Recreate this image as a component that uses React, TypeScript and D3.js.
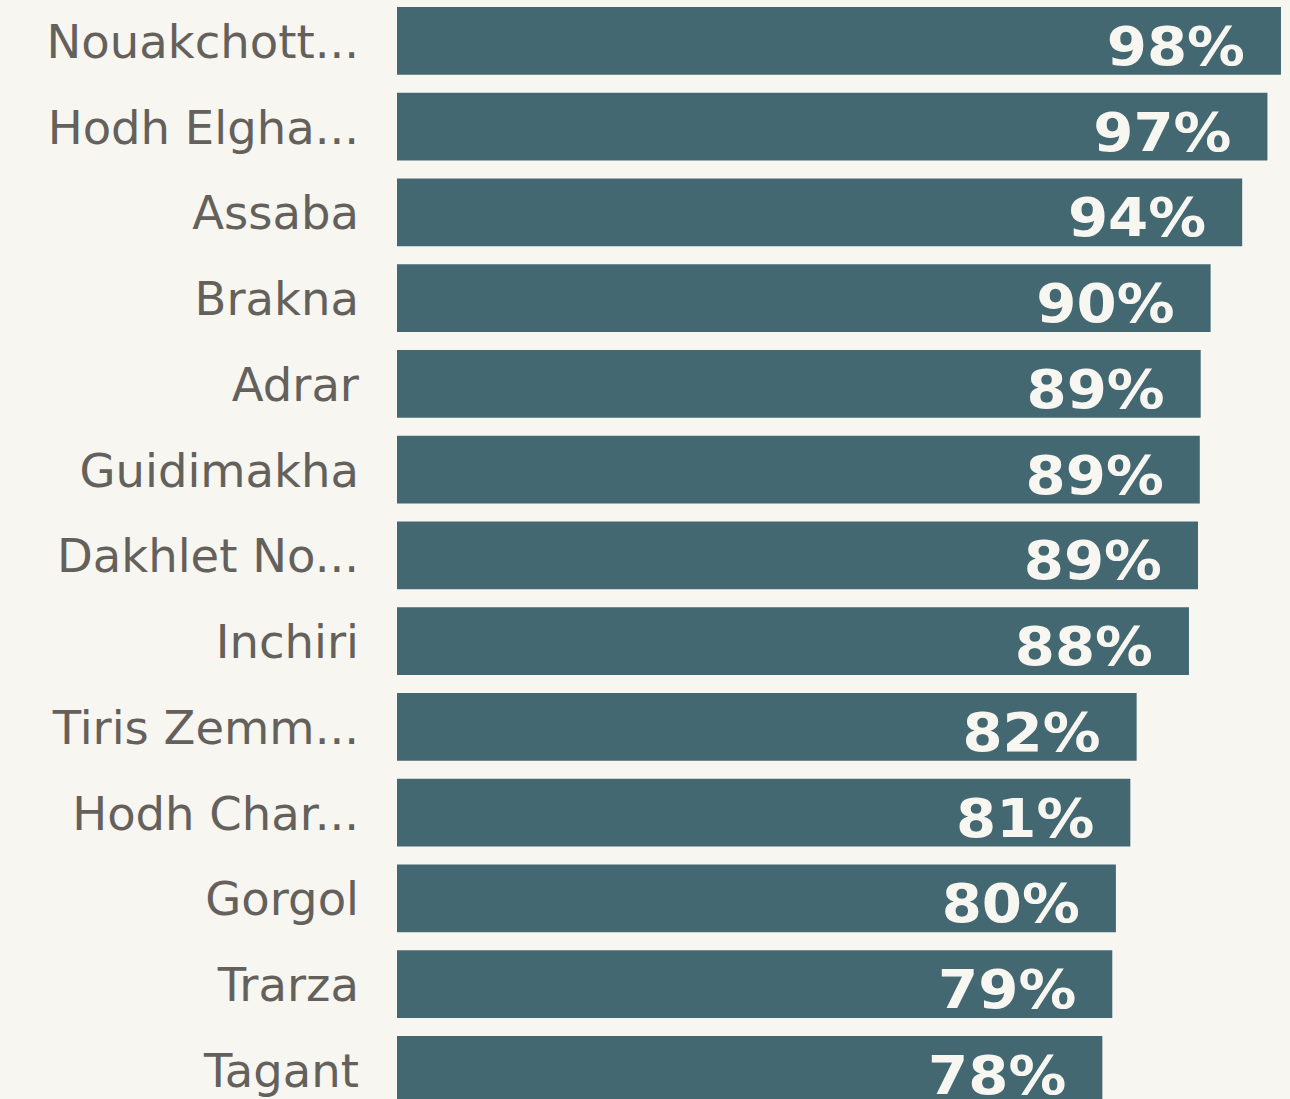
import React from "react";
import * as d3 from "d3";

// region names (already truncated as in the source)
const regions = [
  "Nouakchott...",
  "Hodh Elgha...",
  "Assaba",
  "Brakna",
  "Adrar",
  "Guidimakha",
  "Dakhlet No...",
  "Inchiri",
  "Tiris Zemm...",
  "Hodh Char...",
  "Gorgol",
  "Trarza",
  "Tagant",
];
// share in % and the rounded labels printed on the bars
const shares = [98.0, 96.5, 93.7, 90.2, 89.1, 89.0, 88.8, 87.8, 82.0, 81.3, 79.7, 79.3, 78.2];
const shareLabels = ["98%", "97%", "94%", "90%", "89%", "89%", "89%", "88%", "82%", "81%", "80%", "79%", "78%"];

const width = 1290;
const height = 1099;

const App = () => {
  // band scale for the rows, linear for the bar length
  const y = d3
    .scaleBand<string>()
    .domain(regions)
    .range([7 - 9, 7 + 13 * 85.75 - 9])
    .paddingInner(0.21)
    .paddingOuter(0.105);

  const x = d3.scaleLinear().domain([0, 100]).range([397, 1299]);

  return (
    <div style={{ position: "fixed", left: 0, top: 0, width, height, background: "#f7f6f1" }}>
      <svg width={width} height={height} style={{ display: "block" }}>
        <rect width={width} height={height} fill="#f7f6f1" />
        {regions.map((r, i) => {
          const top = y(r) as number;
          const bh = y.bandwidth();
          const cy = top + bh / 2;
          return (
            <g key={r}>
              <rect x={x(0)} y={top} width={x(shares[i]) - x(0)} height={bh} fill="#436871" />
              <text
                x={359}
                y={cy + 17}
                textAnchor="end"
                fontFamily="DejaVu Sans"
                fontSize={46.5}
                fill="#64615c"
              >
                {r}
              </text>
              {/* value label, a bit wider than DejaVu bold to look like the source font */}
              <text
                transform={`translate(${x(shares[i]) - 36},${cy + 24}) scale(1.09,1)`}
                textAnchor="end"
                fontFamily="DejaVu Sans"
                fontWeight="bold"
                fontSize={53}
                fill="#f7f6f1"
              >
                {shareLabels[i]}
              </text>
            </g>
          );
        })}
      </svg>
    </div>
  );
};

export default App;
